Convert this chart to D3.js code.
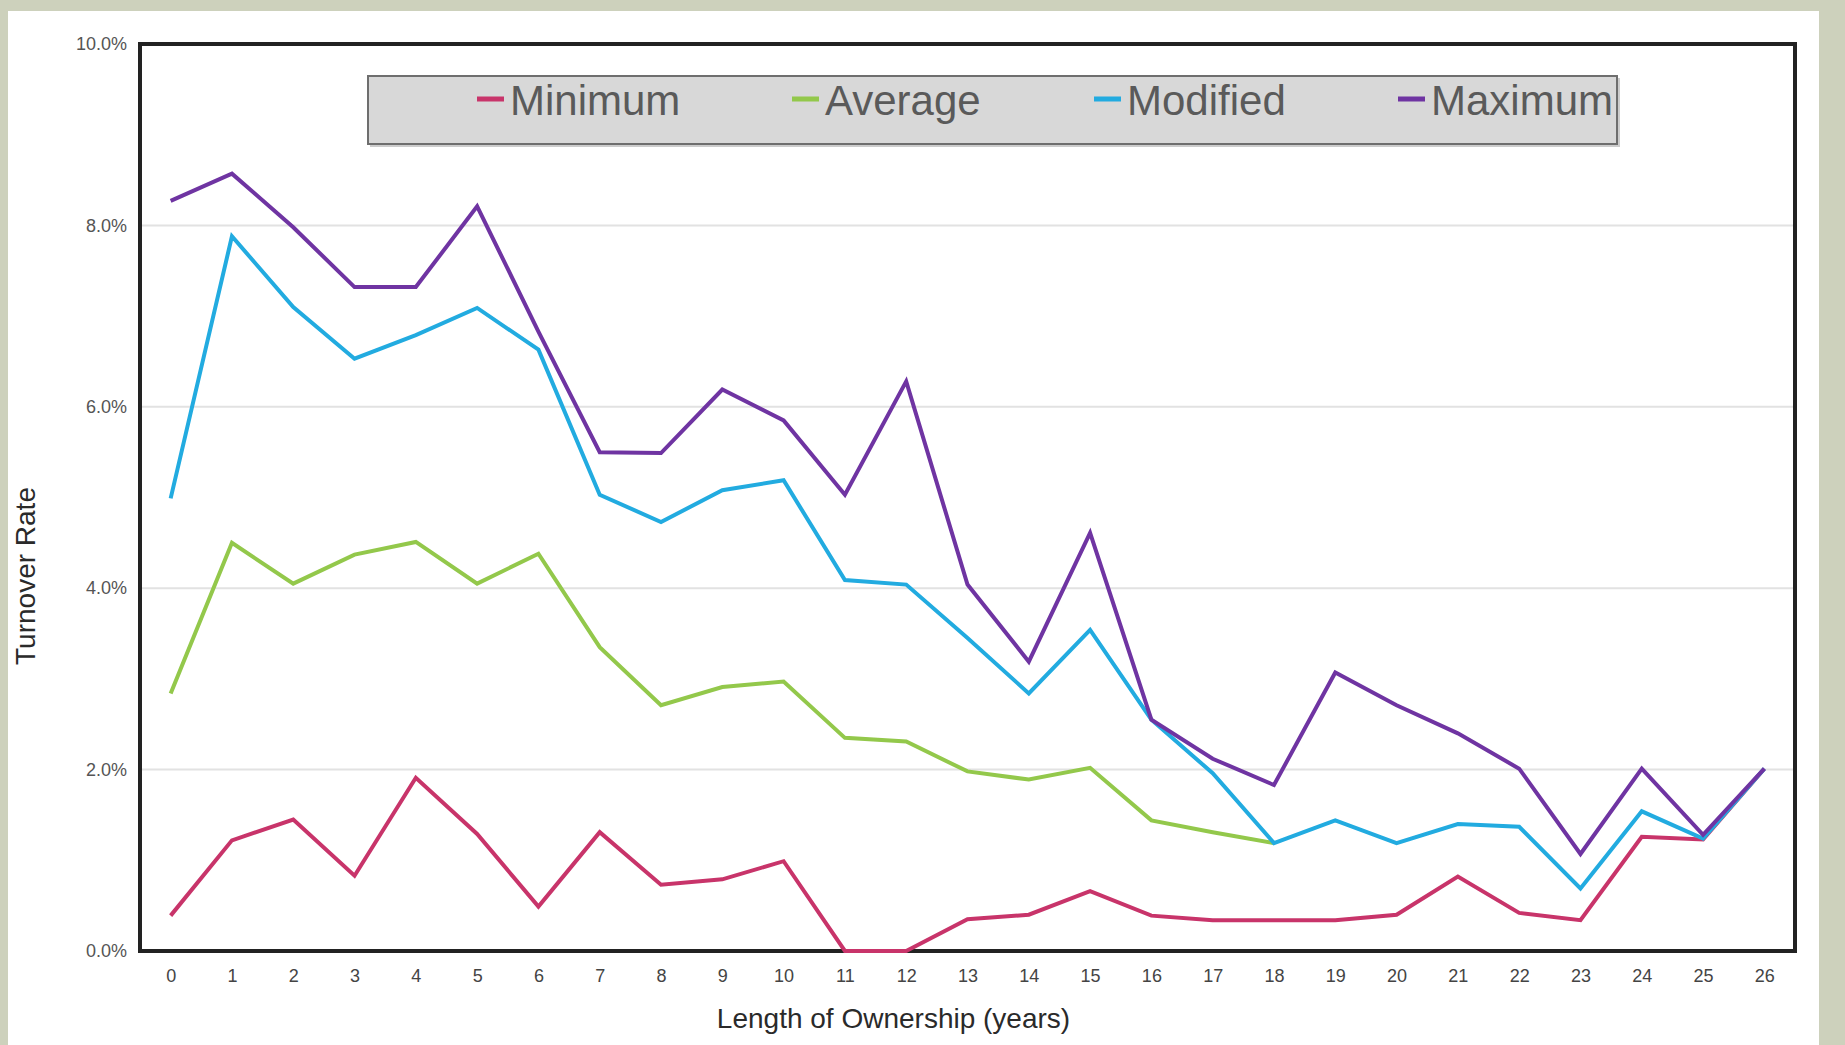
<!DOCTYPE html>
<html>
<head>
<meta charset="utf-8">
<script src="https://cdn.jsdelivr.net/npm/d3@7"></script>
<style>
  html, body { margin: 0; padding: 0; background: #cdd1bc; }
  svg { display: block; }
</style>
</head>
<body>
<svg id="chart" width="1845" height="1045"></svg>
<script>
const categories = ["0","1","2","3","4","5","6","7","8","9","10","11","12","13","14","15","16","17","18","19","20","21","22","23","24","25","26"];
const seriesNames = ["Minimum", "Average", "Modified", "Maximum"];
const minimumValues = [0.39,1.22,1.45,0.83,1.91,1.29,0.49,1.31,0.73,0.79,0.99,0.0,0.0,0.35,0.40,0.66,0.39,0.34,0.34,0.34,0.40,0.82,0.42,0.34,1.26,1.23,2.01];
const averageValues = [2.84,4.50,4.05,4.37,4.51,4.05,4.38,3.35,2.71,2.91,2.97,2.35,2.31,1.98,1.89,2.02,1.44,1.31,1.19,null,null,null,null,null,null,null,null];
const modifiedValues = [4.99,7.88,7.10,6.53,6.79,7.09,6.63,5.03,4.73,5.08,5.19,4.09,4.04,3.45,2.84,3.54,2.55,1.96,1.19,1.44,1.19,1.40,1.37,0.69,1.54,1.24,2.01];
const maximumValues = [8.27,8.57,7.98,7.32,7.32,8.21,6.83,5.50,5.49,6.19,5.85,5.03,6.28,4.04,3.19,4.61,2.55,2.12,1.83,3.07,2.71,2.40,2.01,1.07,2.01,1.28,2.01];
const yTickValues = [0, 2, 4, 6, 8, 10];
const xTitle = "Length of Ownership (years)";
const yTitle = "Turnover Rate";

const seriesValues = [minimumValues, averageValues, modifiedValues, maximumValues];
const colors = ["#c8346a", "#93c84b", "#22abe0", "#6f34a2"];

const svg = d3.select("#chart");
const W = 1845, H = 1045;
const plot = { left: 140, right: 1795, top: 44, bottom: 951 };

// white panel
svg.append("rect").attr("x", 8).attr("y", 11).attr("width", 1811).attr("height", H - 11).attr("fill", "#ffffff");

const x = d3.scalePoint().domain(categories).range([plot.left, plot.right]).padding(0.5);
const y = d3.scaleLinear().domain([0, 10]).range([plot.bottom, plot.top]);

// gridlines
svg.append("g").selectAll("line").data(yTickValues.filter(v => v > 0 && v < 10)).join("line")
  .attr("x1", plot.left).attr("x2", plot.right)
  .attr("y1", d => y(d)).attr("y2", d => y(d))
  .attr("stroke", "#e2e2e2").attr("stroke-width", 2);

// axes
const yAxis = svg.append("g").attr("transform", `translate(${plot.left},0)`)
  .call(d3.axisLeft(y).tickValues(yTickValues).tickSize(0).tickPadding(13).tickFormat(d => d.toFixed(1) + "%"));
yAxis.select(".domain").remove();
yAxis.selectAll("text").attr("font-family", "Liberation Sans, Arial, sans-serif").attr("font-size", 18).attr("fill", "#555");

const xAxis = svg.append("g").attr("transform", `translate(0,${plot.bottom})`)
  .call(d3.axisBottom(x).tickSize(0).tickPadding(18));
xAxis.select(".domain").remove();
xAxis.selectAll("text").attr("font-family", "Liberation Sans, Arial, sans-serif").attr("font-size", 18).attr("fill", "#444");

// frame
svg.append("rect")
  .attr("x", plot.left).attr("y", plot.top)
  .attr("width", plot.right - plot.left).attr("height", plot.bottom - plot.top)
  .attr("fill", "none").attr("stroke", "#222").attr("stroke-width", 4);

// lines
const line = d3.line()
  .defined(d => d.v !== null)
  .x(d => x(d.c))
  .y(d => y(d.v));

seriesValues.forEach((vals, i) => {
  const data = categories.map((c, j) => ({ c, v: vals[j] }));
  svg.append("path").datum(data)
    .attr("d", line)
    .attr("fill", "none")
    .attr("stroke", colors[i])
    .attr("stroke-width", 4)
    .attr("stroke-linejoin", "miter");
});

// legend
const lg = svg.append("g");
lg.append("rect").attr("x", 370).attr("y", 78).attr("width", 1250).attr("height", 69).attr("fill", "#9a9a9a").attr("opacity", 0.5);
lg.append("rect").attr("x", 368).attr("y", 76).attr("width", 1249).attr("height", 68)
  .attr("fill", "#d8d8d8").attr("stroke", "#6e6e6e").attr("stroke-width", 2);
const legendX = [477, 792, 1094, 1398];
seriesNames.forEach((name, i) => {
  lg.append("line").attr("x1", legendX[i]).attr("x2", legendX[i] + 27)
    .attr("y1", 99).attr("y2", 99).attr("stroke", colors[i]).attr("stroke-width", 5);
  lg.append("text").attr("x", legendX[i] + 33).attr("y", 115)
    .attr("font-family", "Liberation Sans, Arial, sans-serif").attr("font-size", 42)
    .attr("fill", "#5a5a5a").text(name);
});

// axis titles
svg.append("text").attr("x", (plot.left + plot.right) / 2 - 74).attr("y", 1028)
  .attr("text-anchor", "middle").attr("font-family", "Liberation Sans, Arial, sans-serif")
  .attr("font-size", 28).attr("fill", "#2a2a2a").text(xTitle);
svg.append("text").attr("transform", "translate(35,576) rotate(-90)")
  .attr("text-anchor", "middle").attr("font-family", "Liberation Sans, Arial, sans-serif")
  .attr("font-size", 28).attr("fill", "#2a2a2a").text(yTitle);
</script>
</body>
</html>
